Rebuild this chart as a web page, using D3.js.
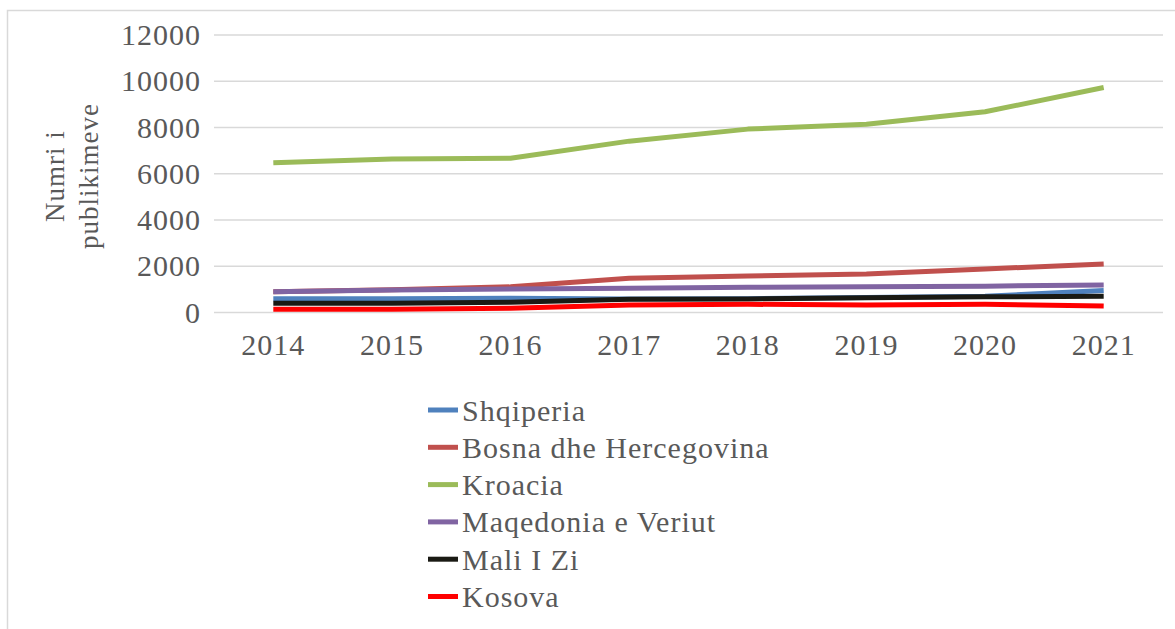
<!DOCTYPE html>
<html>
<head>
<meta charset="utf-8">
<script src="https://cdn.jsdelivr.net/npm/d3@7"></script>
<style>
  html, body { margin: 0; padding: 0; background: #fff; }
  svg { display: block; }
  svg text { font-family: "Liberation Serif", Tinos, "Times New Roman", Times, "DejaVu Serif", serif; letter-spacing: 1px; }
</style>
</head>
<body>
<script>
// data
const years = ["2014", "2015", "2016", "2017", "2018", "2019", "2020", "2021"];
const yTicks = [0, 2000, 4000, 6000, 8000, 10000, 12000];

const shqiperia = [600, 600, 620, 580, 600, 650, 700, 950];
const bosna = [900, 980, 1110, 1480, 1580, 1665, 1880, 2100];
const kroacia = [6480, 6640, 6670, 7410, 7930, 8140, 8680, 9730];
const maqedonia = [900, 970, 1015, 1045, 1090, 1115, 1140, 1190];
const maliIZi = [400, 400, 440, 570, 585, 640, 680, 700];
const kosova = [140, 140, 180, 325, 355, 325, 355, 280];

const series = [
  { name: "Shqiperia", values: shqiperia, color: "#4f81bd" },
  { name: "Bosna dhe Hercegovina", values: bosna, color: "#c0504d" },
  { name: "Kroacia", values: kroacia, color: "#9bbb59" },
  { name: "Maqedonia e Veriut", values: maqedonia, color: "#8064a2" },
  { name: "Mali I Zi", values: maliIZi, color: "#1a1a14" },
  { name: "Kosova", values: kosova, color: "#ff0000" }
];

const width = 1175, height = 629;
const plot = { left: 214, right: 1163, top: 35, bottom: 312.5 };

const svg = d3.select("body").append("svg")
    .attr("width", width)
    .attr("height", height);

// chart area border (only top and left visible in the crop)
svg.append("path")
    .attr("d", `M7.5,${height} V10.5 H${width}`)
    .attr("fill", "none")
    .attr("stroke", "#d9d9d9")
    .attr("stroke-width", 1.5);

const x = d3.scaleBand()
    .domain(years)
    .range([plot.left, plot.right]);

const y = d3.scaleLinear()
    .domain([0, 12000])
    .range([plot.bottom, plot.top]);

// gridlines
svg.append("g")
    .selectAll("line")
    .data(yTicks)
    .join("line")
      .attr("x1", plot.left)
      .attr("x2", plot.right)
      .attr("y1", d => y(d))
      .attr("y2", d => y(d))
      .attr("stroke", "#d9d9d9")
      .attr("stroke-width", 1.5);

// y axis labels
const yAxis = svg.append("g")
    .attr("transform", `translate(${plot.left - 13},0)`)
    .call(d3.axisLeft(y).tickValues(yTicks).tickSize(0).tickPadding(0).tickFormat(d3.format("d")));
yAxis.attr("font-family", null).attr("font-size", null);
yAxis.select(".domain").remove();
yAxis.selectAll("text")
    .attr("fill", "#595959")
    .style("font-size", "30px");

// x axis labels
const xAxis = svg.append("g")
    .attr("transform", `translate(0,${plot.bottom + 21})`)
    .call(d3.axisBottom(x).tickSize(0).tickPadding(0));
xAxis.attr("font-family", null).attr("font-size", null);
xAxis.select(".domain").remove();
xAxis.selectAll("text")
    .attr("fill", "#595959")
    .attr("dy", "0.71em")
    .style("font-size", "30px");

// y axis title, two lines
const title = svg.append("text")
    .attr("transform", "translate(55,176) rotate(-90)")
    .attr("text-anchor", "middle")
    .attr("fill", "#595959")
    .style("font-size", "27px");
title.append("tspan").attr("x", 0).attr("dy", "0.35em").text("Numri i");
title.append("tspan").attr("x", 0).attr("dy", "1.25em").text("publikimeve");

// lines
const line = d3.line()
    .x((d, i) => x(years[i]) + x.bandwidth() / 2)
    .y(d => y(d));

svg.append("g")
    .selectAll("path")
    .data(series)
    .join("path")
      .attr("d", d => line(d.values))
      .attr("fill", "none")
      .attr("stroke", d => d.color)
      .attr("stroke-width", 5)
      .attr("stroke-linejoin", "round");

// legend
const legend = svg.append("g")
    .attr("transform", "translate(428,410)")
  .selectAll("g")
  .data(series)
  .join("g")
    .attr("transform", (d, i) => `translate(0,${i * 37.3})`);

legend.append("line")
    .attr("x1", 0)
    .attr("x2", 30)
    .attr("stroke", d => d.color)
    .attr("stroke-width", 5);

legend.append("text")
    .attr("x", 34)
    .attr("dy", "0.35em")
    .attr("fill", "#595959")
    .style("font-size", "30px")
    .text(d => d.name);
</script>
</body>
</html>
